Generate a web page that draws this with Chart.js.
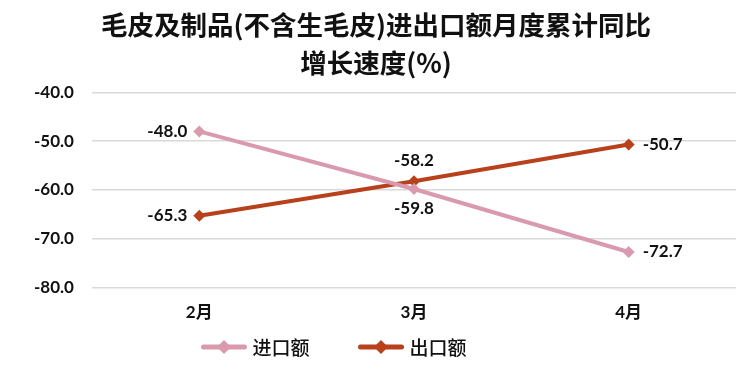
<!DOCTYPE html>
<html>
<head>
<meta charset="utf-8">
<script src="https://cdn.jsdelivr.net/npm/chart.js@4"></script>
<style>
  html, body { margin: 0; padding: 0; background: #fff; }
  #wrap { width: 750px; height: 374px; }
</style>
</head>
<body>
<div id="wrap"><canvas id="chart" width="750" height="374"></canvas></div>
<script>
var categories = ['2月', '3月', '4月'];
var importValues = [-48.0, -59.8, -72.7];
var exportValues = [-65.3, -58.2, -50.7];
var seriesNames = ['进口额', '出口额'];
var titleLines = ['毛皮及制品(不含生毛皮)进出口额月度累计同比', '增长速度(%)'];

var pink = '#d99aae';
var brick = '#b8411c';
var labelFont = 'bold 17px Lato, "Noto Sans CJK SC", sans-serif';

// 數據標籤
var pointLabels = {
    id: 'pointLabels',
    afterDatasetsDraw: function(chart, args, opts) {
        var ctx = chart.ctx;
        ctx.save();
        ctx.font = labelFont;
        ctx.fillStyle = '#111';
        chart.data.datasets.forEach(function(ds, i) {
            var meta = chart.getDatasetMeta(i);
            meta.data.forEach(function(pt, j) {
                var text = ds.data[j].toFixed(1);
                var pos = opts.positions[i][j];
                var x = pt.x, y = pt.y;
                ctx.textBaseline = 'middle';
                if (pos === 'left') { ctx.textAlign = 'right'; x -= 12; }
                else if (pos === 'right') { ctx.textAlign = 'left'; x += 14; }
                else if (pos === 'above') { ctx.textAlign = 'center'; y -= 21; }
                else { ctx.textAlign = 'center'; y += 20; }
                ctx.fillText(text, x, y);
            });
        });
        ctx.restore();
    }
};

// 圖例：線段加菱形，放在底部
var lineLegend = {
    id: 'lineLegend',
    afterDraw: function(chart, args, opts) {
        var ctx = chart.ctx;
        ctx.save();
        ctx.font = opts.font;
        var items = chart.data.datasets.map(function(ds) {
            return { text: ds.label, color: ds.borderColor, w: opts.iconWidth + opts.textGap + ctx.measureText(ds.label).width };
        });
        var total = items.reduce(function(s, it) { return s + it.w; }, 0) + opts.itemGap * (items.length - 1);
        var x = opts.centerX - total / 2;
        var y = opts.y;
        items.forEach(function(it) {
            ctx.strokeStyle = it.color;
            ctx.lineWidth = 5;
            ctx.lineCap = 'round';
            ctx.beginPath();
            ctx.moveTo(x + 2, y); ctx.lineTo(x + opts.iconWidth - 2, y);
            ctx.stroke();
            var cx = x + opts.iconWidth / 2;
            ctx.fillStyle = it.color;
            ctx.beginPath();
            ctx.moveTo(cx, y - 7); ctx.lineTo(cx + 7, y); ctx.lineTo(cx, y + 7); ctx.lineTo(cx - 7, y);
            ctx.closePath();
            ctx.fill();
            ctx.fillStyle = '#111';
            ctx.textAlign = 'left';
            ctx.textBaseline = 'middle';
            ctx.fillText(it.text, x + opts.iconWidth + opts.textGap, y + 1);
            x += it.w + opts.itemGap;
        });
        ctx.restore();
    }
};

var ctx = document.getElementById('chart').getContext('2d');
var myChart = new Chart(ctx, {
    type: 'line',
    data: {
        labels: categories,
        datasets: [{
            label: seriesNames[0],
            data: importValues,
            borderColor: pink,
            backgroundColor: pink,
            borderWidth: 4,
            pointStyle: 'rectRot',
            pointRadius: 6,
            pointBorderWidth: 0,
            pointHoverRadius: 6
        }, {
            label: seriesNames[1],
            data: exportValues,
            borderColor: brick,
            backgroundColor: brick,
            borderWidth: 4,
            pointStyle: 'rectRot',
            pointRadius: 6,
            pointBorderWidth: 0,
            pointHoverRadius: 6
        }]
    },
    options: {
        responsive: false,
        animation: false,
        layout: { padding: { left: 16, right: 14, top: 0, bottom: 44 } },
        scales: {
            x: {
                offset: true,
                grid: { display: false },
                border: { display: false },
                ticks: {
                    color: '#111',
                    font: { family: 'Lato, "Noto Sans CJK SC", sans-serif', size: 17, weight: 'bold' },
                    padding: 7
                }
            },
            y: {
                min: -80,
                max: -40,
                grid: { color: '#d9d9d9', lineWidth: 1.5, drawTicks: false },
                border: { display: false },
                ticks: {
                    stepSize: 10,
                    color: '#111',
                    padding: 18,
                    font: { family: 'Lato, sans-serif', size: 17, weight: 'bold' },
                    callback: function(v) { return v.toFixed(1); }
                }
            }
        },
        plugins: {
            title: {
                display: true,
                text: titleLines,
                color: '#111',
                font: { family: '"Noto Sans CJK SC", sans-serif', size: 26.5, weight: 'bold', lineHeight: 1.44 },
                padding: { top: 6, bottom: 10 }
            },
            legend: { display: false },
            tooltip: { enabled: false },
            pointLabels: {
                positions: [['left', 'below', 'right'], ['left', 'above', 'right']]
            },
            lineLegend: {
                font: '500 19px "Noto Sans CJK SC", sans-serif',
                centerX: 334,
                y: 347,
                iconWidth: 45,
                textGap: 6,
                itemGap: 49
            }
        }
    },
    plugins: [pointLabels, lineLegend]
});
</script>
</body>
</html>
